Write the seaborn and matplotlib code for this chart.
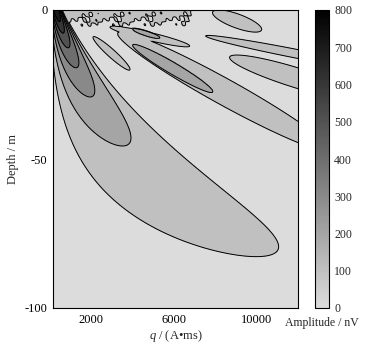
import numpy as np
import matplotlib
matplotlib.use("Agg")
import matplotlib.pyplot as plt
import seaborn as sns
from matplotlib.cm import ScalarMappable
from matplotlib.colors import Normalize

# values
q_range = [170, 12000]       # pulse moment, A*ms
depth_range = [-100, 0]      # m
levels = [0, 100, 200, 300, 400, 500, 600, 700, 800]   # nV
x_ticks = [2000, 4000, 6000, 8000, 10000]
x_tick_labels = ["2000", "", "6000", "", "10000"]
y_ticks = [0, -50, -100]

# main lobe, fitted to the tips of its nested contours
main_peak = 830.0      # nV at the surface
main_decay = 44.0      # m
main_q_scale = 21.0    # A*ms per m
main_q_offset = 10.0   # m
main_q_growth = 70.0   # m

# side lobes: one contour ellipse each (level, end points, vertical half thickness in m)
side_level = [100, 100, 200, 100, 200, 100, 100, 100]
side_q0 = [2110, 3300, 4020, 2920, 4020, 7540, 8700, 7880]
side_z0 = [-9.0, -7.7, -11.7, -5.7, -6.4, -8.7, -15.8, -0.7]
side_q1 = [3880, 13520, 7880, 6770, 5320, 16410, 15250, 10240]
side_z1 = [-20.1, -47.0, -27.5, -12.1, -9.3, -20.8, -29.9, -6.7]
side_half = [1.8, 5.0, 2.2, 1.4, 0.8, 1.5, 3.5, 2.5]

# noisy strip just below the surface
noise_peak = 250.0     # nV
noise_depth = 4.0      # m
noise_q_end = 6900     # A*ms

AX_W, AX_H = 245.0, 298.0   # axes size in pixels, used to shape the ellipses


def to_px(q, z):
    x = (np.asarray(q, float) - q_range[0]) / (q_range[1] - q_range[0]) * AX_W
    y = -np.asarray(z, float) / (depth_range[1] - depth_range[0]) * AX_H
    return x, y


def side_lobe(Q, Z, level, q0, z0, q1, z1, half):
    x0, y0 = to_px(q0, z0)
    x1, y1 = to_px(q1, z1)
    X, Y = to_px(Q, Z)
    cx, cy = (x0 + x1) / 2, (y0 + y1) / 2
    a = np.hypot(x1 - x0, y1 - y0) / 2
    ex, ey = (x1 - x0) / (2 * a), (y1 - y0) / (2 * a)
    b = half * AX_H / 100 * ex
    s = (X - cx) * ex + (Y - cy) * ey
    n = -(X - cx) * ey + (Y - cy) * ex
    r2 = (s / a) ** 2 + (n / b) ** 2
    return level + 99 * (1 - r2 ** 4)


q = np.linspace(q_range[0], q_range[1], 700)
z = np.linspace(depth_range[0], depth_range[1], 600)
Q, Z = np.meshgrid(q, z)
d = -Z

env = main_peak * (1 + d / main_decay) ** -2
qc = main_q_scale * (d + main_q_offset) * np.exp(d / main_q_growth)
u = Q / qc
field = np.where(u < np.pi, env * np.sin(np.minimum(u, np.pi)), 0)

for k in range(len(side_level)):
    field = np.maximum(field, side_lobe(Q, Z, side_level[k], side_q0[k], side_z0[k],
                                        side_q1[k], side_z1[k], side_half[k]))

tex = (np.sin(Q / 157 + 1.3) * np.cos(Q / 97 + d * 1.1)
       + 0.6 * np.sin(Q / 61 - d * 2.3 + 0.4) + 0.4 * np.cos(Q / 233 + d * 0.7))
taper = 1 / (1 + np.exp((Q - noise_q_end) / 150))
noise = np.minimum(noise_peak * np.exp(-d / noise_depth) * (1 + 0.42 * tex) * taper, 190)
field = np.clip(np.maximum(field, noise), 0, 799)

sns.set_theme(style="ticks")
plt.rcParams["font.family"] = ["Liberation Serif", "DejaVu Serif"]
plt.rcParams["mathtext.fontset"] = "custom"
plt.rcParams["mathtext.rm"] = "Liberation Serif"
plt.rcParams["mathtext.it"] = "Liberation Serif:italic"
plt.rcParams["axes.unicode_minus"] = False

cmap = sns.blend_palette(["#dcdcdc", "#000000"], as_cmap=True)
fill_colors = [cmap(l / levels[-1]) for l in levels[:-1]]

fig = plt.figure(figsize=(3.74, 3.46), dpi=100)
ax = fig.add_axes([53 / 374, 1 - 308 / 346, 245 / 374, 298 / 346])
cax = fig.add_axes([315 / 374, 1 - 308 / 346, 13.5 / 374, 298 / 346])

ax.contourf(Q, Z, field, levels=levels, colors=fill_colors)
ax.contour(Q, Z, field, levels=levels[1:-1], colors="black", linewidths=0.7)

ax.set_xlim(q_range)
ax.set_ylim(depth_range)
ax.set_xticks(x_ticks)
ax.set_xticklabels(x_tick_labels)
ax.set_yticks(y_ticks)
ax.tick_params(direction="in", length=3, width=0.6, top=True, right=True,
               labelsize=9, colors="black", pad=4)
for sp in ax.spines.values():
    sp.set_linewidth(0.8)
    sp.set_color("black")
ax.set_xlabel(r"$q$ / (A•ms)", fontsize=9, labelpad=2)
ax.set_ylabel("Depth / m", fontsize=9, labelpad=4)

sm = ScalarMappable(norm=Normalize(levels[0], levels[-1]), cmap=cmap)
cb = fig.colorbar(sm, cax=cax, ticks=levels)
cb.outline.set_linewidth(0.8)
cb.outline.set_edgecolor("black")
cax.tick_params(direction="in", length=3, width=0.6, left=True, right=True,
                labelsize=8.5, pad=4)
fig.text(322 / 374, 1 - 323 / 346, "Amplitude / nV", ha="center", va="center", fontsize=8.5)

fig.savefig("out.png", dpi=100)
